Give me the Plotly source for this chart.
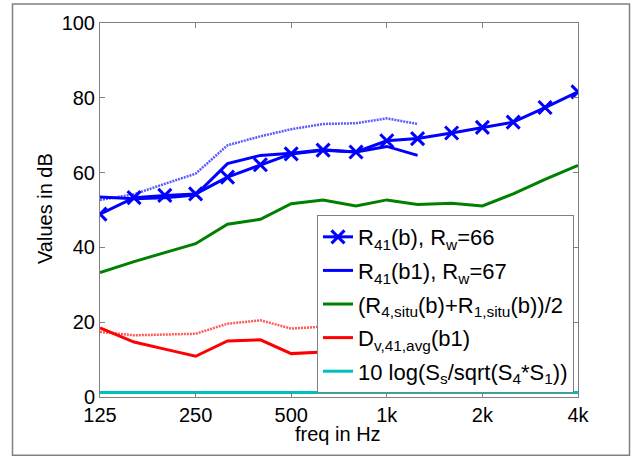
import plotly.graph_objects as go
import numpy as np

bands = [125, 160, 200, 250, 315, 400, 500, 630, 800, 1000, 1250, 1600, 2000, 2500, 3150, 4000]
R41_b = [48.9, 53.3, 53.9, 54.3, 58.8, 62.1, 65.0, 66.0, 65.5, 68.5, 69.1, 70.6, 72.1, 73.5, 77.4, 81.6]
R41_b1 = [53.5, 53.0, 53.3, 54.0, 62.4, 64.6, 65.2, 66.1, 65.5, 67.0, 64.6]
R41_dotted = [52.7, 54.2, 57.0, 59.7, 67.3, 69.7, 71.6, 73.0, 73.2, 74.5, 73.0]
R_situ_avg = [33.3, 36.2, 38.6, 41.0, 46.2, 47.5, 51.7, 52.7, 51.1, 52.7, 51.5, 51.8, 51.1, 54.3, 58.2, 61.9]
Dv_avg = [18.5, 14.7, 12.8, 10.9, 15.0, 15.3, 11.6, 12.0]
Dv_dotted = [17.4, 16.5, 16.7, 16.9, 19.6, 20.5, 18.3, 18.8]
area_corr = [1.2] * len(bands)

tick_vals = [125, 250, 500, 1000, 2000, 4000]
tick_text = ["125", "250", "500", "1k", "2k", "4k"]

names = [
    "R<sub>41</sub>(b), R<sub>w</sub>=66",
    "R<sub>41</sub>(b1), R<sub>w</sub>=67",
    "(R<sub>4,situ</sub>(b)+R<sub>1,situ</sub>(b))/2",
    "D<sub>v,41,avg</sub>(b1)",
    "10 log(S<sub>s</sub>/sqrt(S<sub>4</sub>*S<sub>1</sub>))",
]

fig = go.Figure()
# dotted companions (no legend)
fig.add_trace(go.Scatter(x=bands[:len(R41_dotted)], y=R41_dotted, mode="lines",
                         line=dict(color="#5a5aff", width=2.5, dash="2px,1px"),
                         showlegend=False, hoverinfo="skip"))
fig.add_trace(go.Scatter(x=bands[:len(Dv_dotted)], y=Dv_dotted, mode="lines",
                         line=dict(color="#ff5a5a", width=2.5, dash="2px,1px"),
                         showlegend=False, hoverinfo="skip"))

fig.add_trace(go.Scatter(x=bands, y=R41_b, mode="lines+markers", name=names[0],
                         legendgroup="g1",
                         line=dict(color="#0000ff", width=3),
                         marker=dict(symbol="x-thin", size=13, color="#0000ff",
                                     line=dict(color="#0000ff", width=3))))
fig.add_trace(go.Scatter(x=bands[:len(R41_b1)], y=R41_b1, mode="lines", name=names[1],
                         legendgroup="g2", line=dict(color="#0000ff", width=3)))
fig.add_trace(go.Scatter(x=bands, y=R_situ_avg, mode="lines", name=names[2],
                         legendgroup="g3", line=dict(color="#008000", width=3)))
fig.add_trace(go.Scatter(x=bands[:len(Dv_avg)], y=Dv_avg, mode="lines", name=names[3],
                         legendgroup="g4", line=dict(color="#ff0000", width=3)))
fig.add_trace(go.Scatter(x=bands, y=area_corr, mode="lines", name=names[4],
                         legendgroup="g5", line=dict(color="#00bfbf", width=3)))

W, H = 640, 457
L, R, T, B = 100, 62, 21, 60
pw, ph = W - L - R, H - T - B

def px(x):
    return (x - L) / pw

def py(y):
    return (H - B - y) / ph

fig.update_layout(
    width=W, height=H,
    margin=dict(l=L, r=R, t=T, b=B, pad=0),
    paper_bgcolor="white", plot_bgcolor="white",
    font=dict(family="Liberation Sans, Arial, sans-serif", size=20, color="black"),
    showlegend=True,
    legend=dict(x=px(574), y=py(393), xanchor="right", yanchor="bottom",
                bgcolor="white", bordercolor="#808080", borderwidth=1,
                font=dict(size=22), itemwidth=30, tracegroupgap=2,
                groupclick="toggleitem"),
    xaxis=dict(type="log", range=[np.log10(125), np.log10(4000)],
               tickvals=tick_vals, ticktext=tick_text,
               ticks="inside", ticklen=5, tickcolor="#808080",
               showline=True, linecolor="#808080", linewidth=1, mirror="ticks",
               showgrid=False, zeroline=False),
    yaxis=dict(range=[0, 100], tickvals=[0, 20, 40, 60, 80, 100],
               ticks="inside", ticklen=5, tickcolor="#808080",
               showline=True, linecolor="#808080", linewidth=1, mirror="ticks",
               showgrid=False, zeroline=False),
    annotations=[
        dict(text="Values in dB", xref="paper", yref="paper", x=px(45), y=py(208),
             xanchor="center", yanchor="middle", textangle=-90, showarrow=False,
             font=dict(size=20)),
        dict(text="freq in Hz", xref="paper", yref="paper", x=px(338), y=py(434),
             xanchor="center", yanchor="middle", showarrow=False, font=dict(size=20)),
    ],
    shapes=[
        dict(type="rect", xref="paper", yref="paper",
             x0=px(12.5), x1=px(629.5), y0=py(455.5), y1=py(2),
             line=dict(color="#808080", width=1.5), layer="below"),
    ],
)

fig.write_html("out.html")
